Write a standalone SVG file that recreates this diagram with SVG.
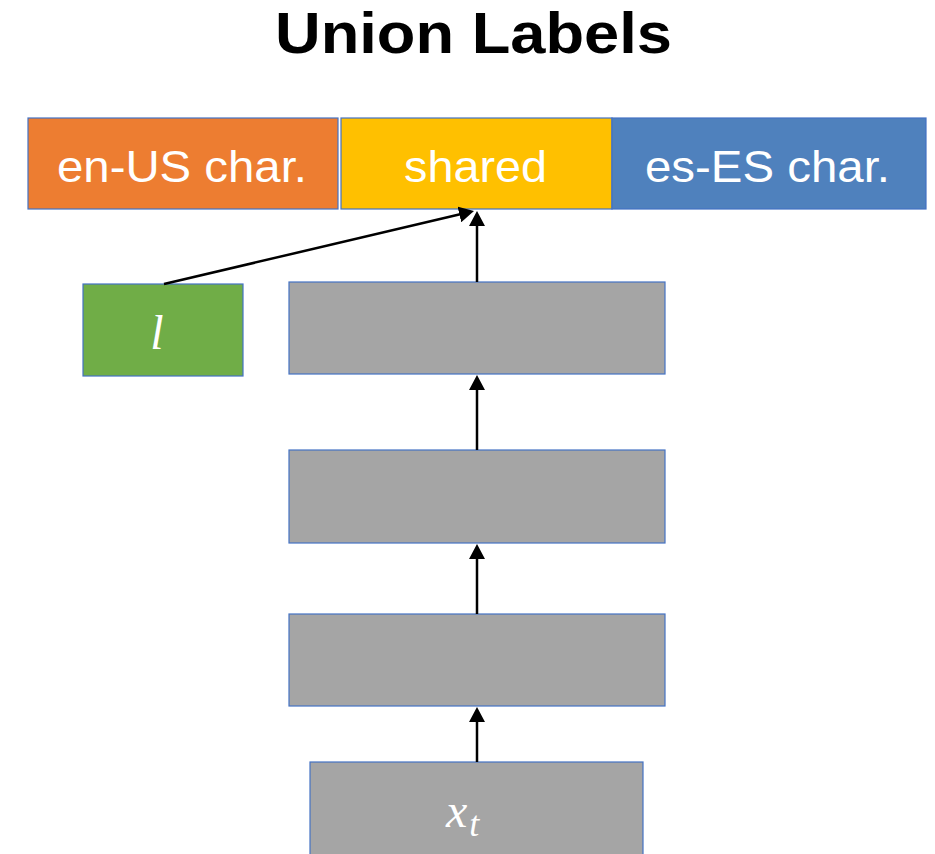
<svg xmlns="http://www.w3.org/2000/svg" width="935" height="854" viewBox="0 0 935 854">
  <style>
    .box { stroke: #4472C4; stroke-width: 1.2; }
    .lbl { font-family: "Liberation Sans", Arial, sans-serif; font-size: 44px; fill: #FFFFFF; }
    .math { font-family: "Liberation Serif", "DejaVu Serif", serif; font-style: italic; fill: #FFFFFF; }
    .title { font-family: "Liberation Sans", Arial, sans-serif; font-size: 58px; font-weight: bold; fill: #000000; }
    .edge { stroke: #000000; stroke-width: 2.5; fill: none; marker-end: url(#arrow); }
  </style>
  <defs>
    <marker id="arrow" viewBox="0 0 15 16" refX="3" refY="8" markerWidth="15" markerHeight="16" markerUnits="userSpaceOnUse" orient="auto">
      <path d="M0,0 L15,8 L0,16 Z" fill="#000000"/>
    </marker>
  </defs>

  <rect width="935" height="854" fill="#FFFFFF"/>

  <text class="title" x="275" y="53" textLength="397" lengthAdjust="spacingAndGlyphs">Union Labels</text>

  <!-- output label segments -->
  <g id="en-us">
    <rect class="box" x="28" y="118" width="310" height="91" fill="#ED7D31"/>
    <text class="lbl" x="57" y="182" textLength="250" lengthAdjust="spacingAndGlyphs">en-US char.</text>
  </g>
  <g id="shared">
    <rect class="box" x="341" y="118" width="271" height="91" fill="#FFC000"/>
    <text class="lbl" x="404" y="182" textLength="143" lengthAdjust="spacingAndGlyphs">shared</text>
  </g>
  <g id="es-es">
    <rect class="box" x="612" y="118" width="314" height="91" fill="#4F81BD"/>
    <text class="lbl" x="645" y="182" textLength="245" lengthAdjust="spacingAndGlyphs">es-ES char.</text>
  </g>

  <!-- language id input -->
  <g id="lang">
    <rect class="box" x="83" y="284" width="160" height="92" fill="#70AD47"/>
    <text class="math" x="157" y="349" font-size="48" text-anchor="middle">l</text>
  </g>

  <!-- stacked layers -->
  <g id="layer3">
    <rect class="box" x="289" y="282" width="376" height="92" fill="#A5A5A5"/>
  </g>
  <g id="layer2">
    <rect class="box" x="289" y="450" width="376" height="93" fill="#A5A5A5"/>
  </g>
  <g id="layer1">
    <rect class="box" x="289" y="614" width="376" height="92" fill="#A5A5A5"/>
  </g>
  <g id="input">
    <rect class="box" x="310" y="762" width="333" height="100" fill="#A5A5A5"/>
    <text class="math" x="446" y="827" font-size="48">x<tspan font-size="36" dx="2" dy="9">t</tspan></text>
  </g>

  <!-- connectors -->
  <g id="edges">
    <line class="edge" x1="477" y1="762" x2="477" y2="719"/>
    <line class="edge" x1="477" y1="614" x2="477" y2="556"/>
    <line class="edge" x1="477" y1="450" x2="477" y2="387"/>
    <line class="edge" x1="477" y1="282" x2="477" y2="223"/>
    <line class="edge" x1="164" y1="284" x2="462.3" y2="213.8"/>
  </g>
</svg>
